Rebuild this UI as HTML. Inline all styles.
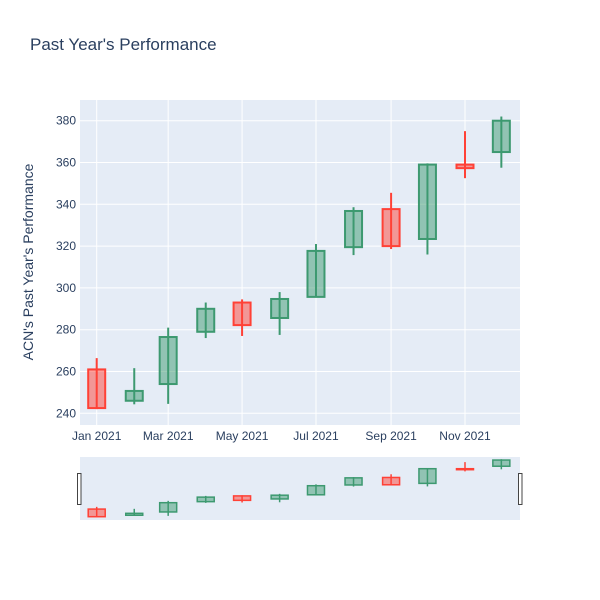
<!DOCTYPE html>
<html><head><meta charset="utf-8"><style>
body{margin:0;background:#fff;}
svg{display:block;font-family:"Liberation Sans",Arial,sans-serif;}
</style></head><body>
<svg id="chart" width="600" height="600">
<rect x="0" y="0" width="600" height="600" fill="#fff"/>
<text x="30" y="50" font-size="17" fill="#2a3f5f">Past Year's Performance</text>
<rect x="80" y="100" width="440" height="325" fill="#e5ecf6"/>
<g id="grid"></g>
<g id="candles"></g>
<g id="yticks"></g>
<g id="xticks"></g>
<text transform="translate(33,262) rotate(-90)" text-anchor="middle" font-size="14" fill="#2a3f5f">ACN's Past Year's Performance</text>
<rect x="80" y="457" width="440" height="63" fill="#e5ecf6"/>
<g id="slider"></g>
<rect x="77.5" y="473.5" width="3.5" height="31" fill="#fff" stroke="#444" stroke-width="1"/>
<rect x="518.5" y="473.5" width="3.5" height="31" fill="#fff" stroke="#444" stroke-width="1"/>
</svg>
<script>
const months = ["2021-01-01","2021-02-01","2021-03-01","2021-04-01","2021-05-01","2021-06-01","2021-07-01","2021-08-01","2021-09-01","2021-10-01","2021-11-01","2021-12-01"];
const opens  = [261, 246, 254, 279, 293, 285.6, 295.7, 319.5, 337.7, 323.4, 359, 365];
const highs  = [266.4, 261.6, 281, 293, 294.5, 298, 321, 338.6, 345.5, 359.6, 375, 382];
const lows   = [242, 244.3, 244.5, 276, 277, 277.5, 295.7, 315.7, 318.6, 316, 352.5, 357.5];
const closes = [242.5, 250.7, 276.5, 290, 282.2, 294.7, 317.7, 336.8, 320, 359, 357.3, 380];
const yTicks = [240, 260, 280, 300, 320, 340, 360, 380];
const xTickDates = ["2021-01-01","2021-03-01","2021-05-01","2021-07-01","2021-09-01","2021-11-01"];
const xTickLabels = ["Jan 2021","Mar 2021","May 2021","Jul 2021","Sep 2021","Nov 2021"];

const NS="http://www.w3.org/2000/svg";
const day0=Date.parse("2021-01-01");
function xScale(d){return 96.7+(Date.parse(d)-day0)/86400000*1.2115;}
function yScale(v){return 413.3-(v-240)*2.09;}
function ySlider(v){return 516.7-(v-242.5)*0.412;}
function mk(tag,attrs,parent){const e=document.createElementNS(NS,tag);for(const k in attrs)e.setAttribute(k,attrs[k]);parent.appendChild(e);return e;}
const grid=document.getElementById('grid'),cg=document.getElementById('candles'),yt=document.getElementById('yticks'),xt=document.getElementById('xticks'),sl=document.getElementById('slider');
yTicks.forEach(v=>{
  const l=mk('line',{x1:80,x2:520,y1:yScale(v),y2:yScale(v),stroke:'#fff','stroke-width':1},grid);
  
  
  const t=mk('text',{x:76,y:yScale(v)+4,'text-anchor':'end','font-size':12,fill:'#2a3f5f'},yt);
  t.textContent=v;
  
  
});
xTickDates.forEach((d,i)=>{
  const l=mk('line',{x1:xScale(d),x2:xScale(d),y1:100,y2:425,stroke:'#fff','stroke-width':1},grid);
  
  
  const t=mk('text',{x:xScale(d),y:440,'text-anchor':'middle','font-size':12,fill:'#2a3f5f'},xt);
  t.textContent=xTickLabels[i];
  
  
});
function candle(parent,i,ys,w,lw,name){
  const inc=closes[i]>=opens[i];
  const col=inc?'#3d9970':'#ff4136', fill=inc?'rgba(61,153,112,0.5)':'rgba(255,65,54,0.5)';
  const x=xScale(months[i]);
  const g=mk('g',{},parent);
  
  
  mk('line',{x1:x,x2:x,y1:ys(highs[i]),y2:ys(lows[i]),stroke:col,'stroke-width':lw},g);
  const top=ys(Math.max(opens[i],closes[i])),bot=ys(Math.min(opens[i],closes[i]));
  mk('rect',{x:x-w/2,y:top,width:w,height:Math.max(bot-top,1),fill:fill,stroke:col,'stroke-width':lw},g);
}
months.forEach((m,i)=>{candle(cg,i,yScale,17,2,'candle-'+m.slice(0,7));candle(sl,i,ySlider,17,1.5,'slider-candle-'+m.slice(0,7));});
</script>
</body></html>
